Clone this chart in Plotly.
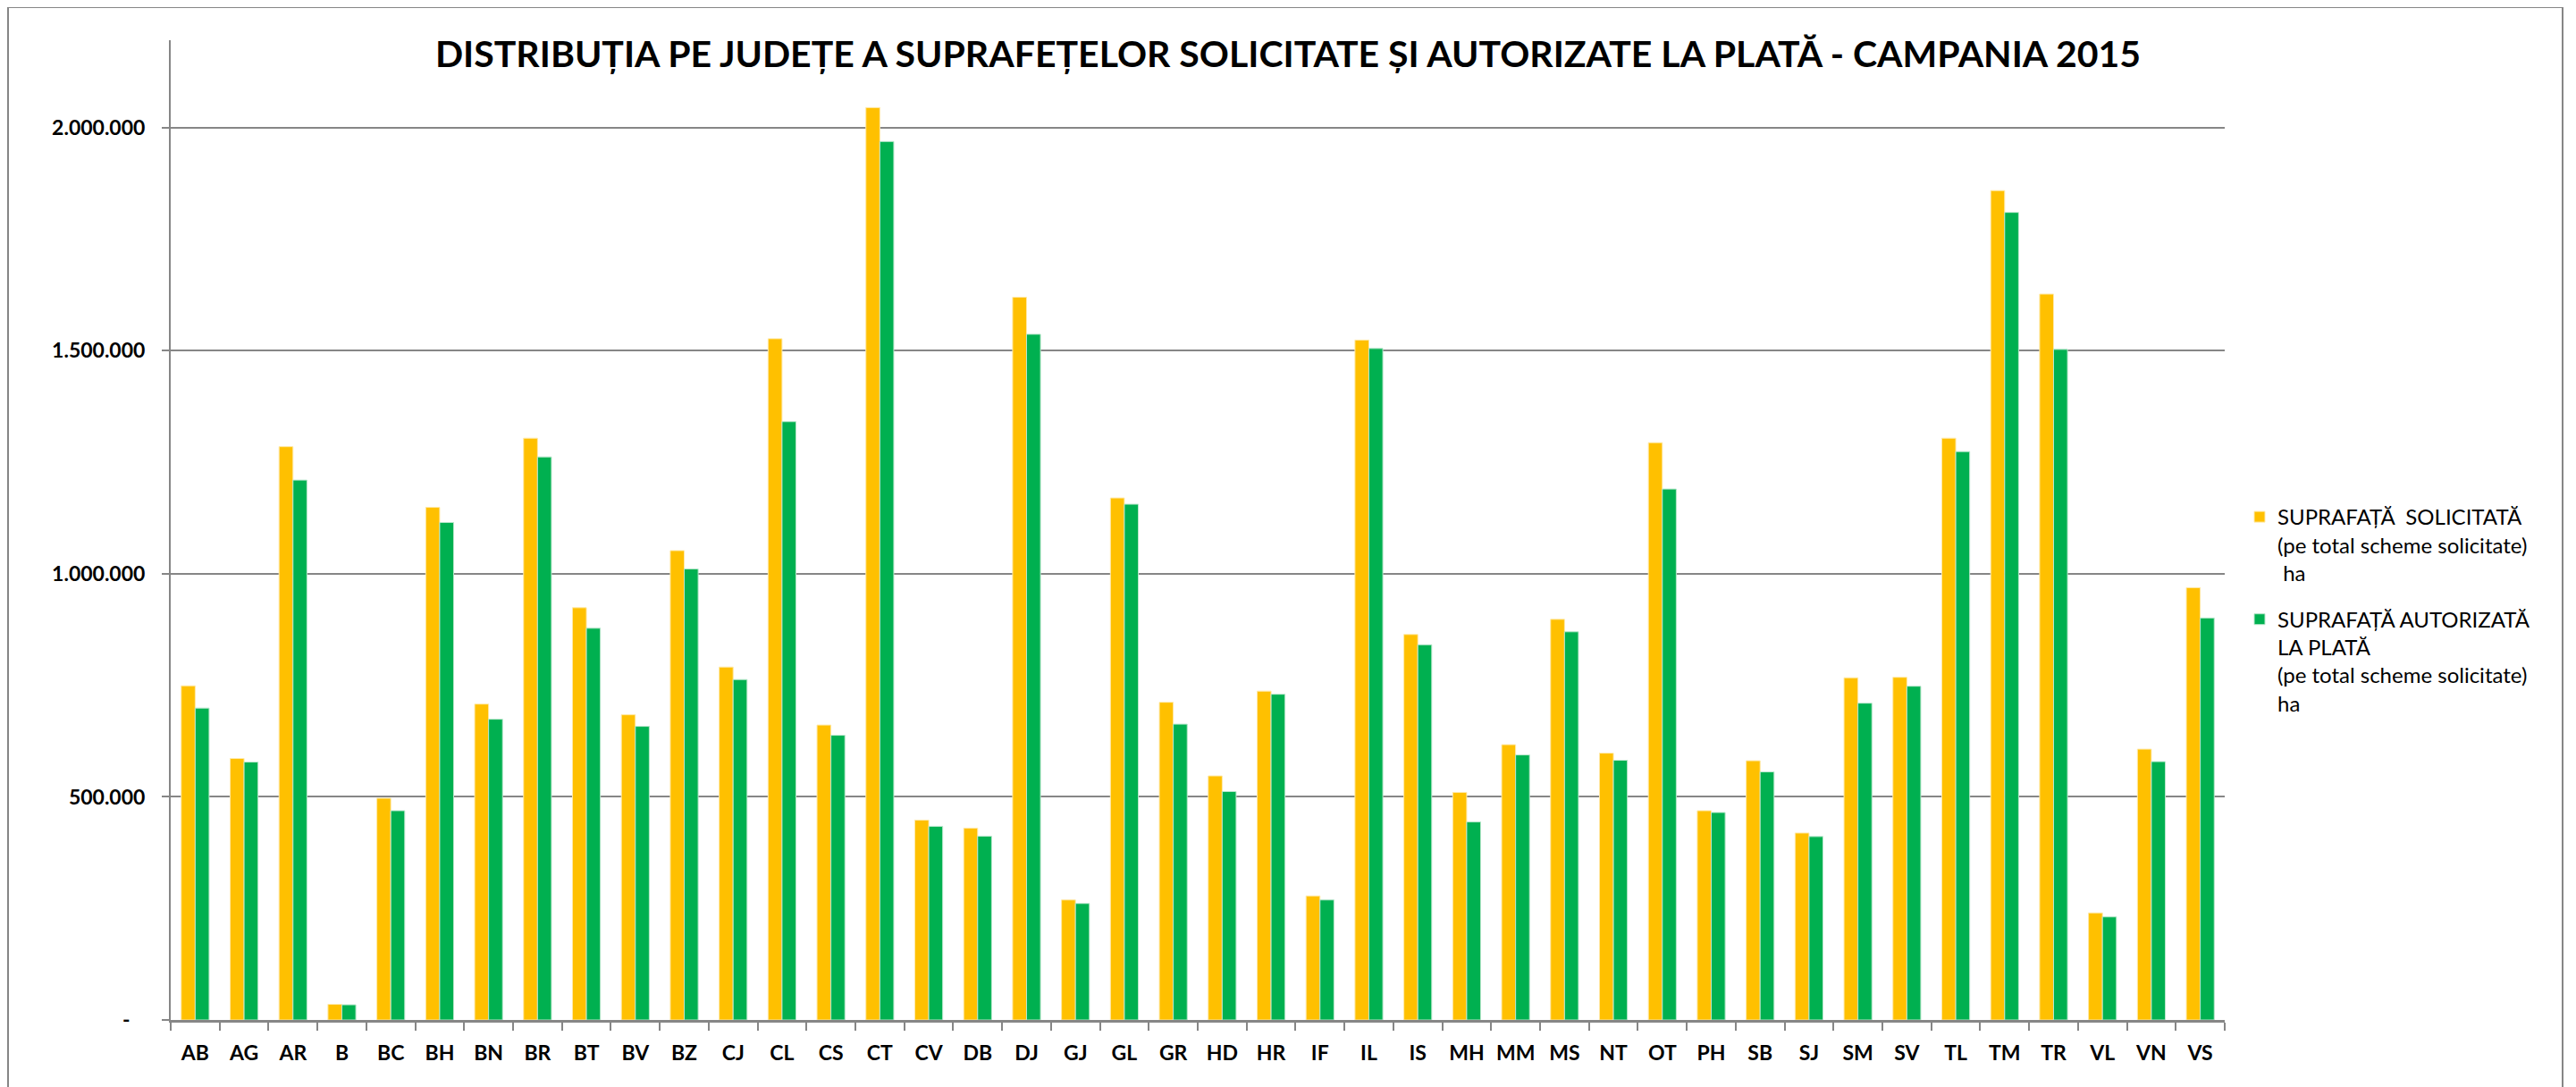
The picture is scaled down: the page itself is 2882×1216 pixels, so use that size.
import plotly.graph_objects as go

# County codes
judete = ['AB', 'AG', 'AR', 'B', 'BC', 'BH', 'BN', 'BR', 'BT', 'BV',
          'BZ', 'CJ', 'CL', 'CS', 'CT', 'CV', 'DB', 'DJ', 'GJ', 'GL',
          'GR', 'HD', 'HR', 'IF', 'IL', 'IS', 'MH', 'MM', 'MS', 'NT',
          'OT', 'PH', 'SB', 'SJ', 'SM', 'SV', 'TL', 'TM', 'TR', 'VL',
          'VN', 'VS']

# Requested area (ha)
suprafata_solicitata = [749000, 586000, 1285000, 35000, 497000, 1149000, 708000, 1304000, 924000, 684000,
                        1052000, 791000, 1527000, 661000, 2045000, 448000, 430000, 1620000, 269000, 1170000,
                        712000, 547000, 737000, 278000, 1524000, 864000, 510000, 617000, 898000, 598000,
                        1294000, 469000, 581000, 419000, 767000, 768000, 1304000, 1859000, 1627000, 240000,
                        607000, 969000]

# Area authorised for payment (ha)
suprafata_autorizata = [699000, 578000, 1210000, 34000, 469000, 1115000, 674000, 1262000, 878000, 658000,
                        1011000, 763000, 1341000, 638000, 1969000, 434000, 412000, 1537000, 261000, 1156000,
                        663000, 512000, 730000, 269000, 1505000, 841000, 444000, 594000, 870000, 582000,
                        1190000, 465000, 556000, 411000, 710000, 748000, 1274000, 1810000, 1503000, 231000,
                        579000, 901000]

y_tickvals = [0, 500000, 1000000, 1500000, 2000000]
y_ticktext = ['-\u00a0\u00a0\u00a0', '500.000', '1.000.000', '1.500.000', '2.000.000']

nume_solicitata = 'SUPRAFAȚĂ\u00a0\u00a0SOLICITATĂ<br>(pe total scheme solicitate)<br>\u00a0ha'
nume_autorizata = 'SUPRAFAȚĂ AUTORIZATĂ<br>LA PLATĂ<br>(pe total scheme solicitate)<br>ha'

# the page body adds an 8px margin, so the figure is drawn 8px in from the corner
OFF = 8
W, H = 2882 - OFF, 1216 - OFF
# plot area in page pixels
L, R, T, B = 191, 2489, 45, 1141
GRAY = '#868686'
FONT = 'Lato, Carlito, Open Sans, sans-serif'

fig = go.Figure()
fig.add_trace(go.Bar(x=judete, y=suprafata_solicitata, name=nume_solicitata,
                     marker=dict(color='#FFC000', line=dict(color='#FFE9A8', width=1)),
                     legendgroup='a'))
fig.add_trace(go.Bar(x=judete, y=suprafata_autorizata, name=nume_autorizata,
                     marker=dict(color='#00B050', line=dict(color='#B8E6CB', width=1)),
                     legendgroup='b'))

def px_x(p):
    return (p - L) / (R - L)

def px_y(p):
    return (B - p) / (B - T)

# outer chart border
fig.add_shape(type='rect', xref='paper', yref='paper',
              x0=px_x(9), x1=px_x(2867), y0=px_y(1240), y1=px_y(8),
              line=dict(color=GRAY, width=2), layer='below')

fig.update_layout(
    width=W, height=H,
    margin=dict(l=L - OFF, r=2882 - R, t=T - OFF, b=1216 - B),
    paper_bgcolor='white', plot_bgcolor='white',
    barmode='group', bargap=0.43, bargroupgap=0,
    font=dict(family=FONT, color='black'),
    title=dict(text='<b>DISTRIBUȚIA PE JUDEȚE A SUPRAFEȚELOR SOLICITATE ȘI AUTORIZATE LA PLATĂ - CAMPANIA 2015</b>',
               font=dict(size=41, family=FONT, color='black'),
               x=(1441 - OFF) / W, xanchor='center', xref='container',
               y=1 - (61 - OFF) / H, yanchor='middle', yref='container'),
    legend=dict(xref='container', yref='container', x=(2508 - OFF) / W, y=1 - (556 - OFF) / H,
                xanchor='left', yanchor='top', valign='top',
                font=dict(size=24, family=FONT, color='black'),
                tracegroupgap=18, bgcolor='rgba(0,0,0,0)'),
    showlegend=True,
)

fig.update_xaxes(
    type='category', showline=True, linecolor=GRAY, linewidth=3,
    ticks='outside', tickson='boundaries', ticklen=9, tickcolor=GRAY, tickwidth=2,
    tickfont=dict(size=23, family=FONT, color='black', weight='bold'),
    ticklabelstandoff=14, showgrid=False, zeroline=False,
)
fig.update_yaxes(
    range=[0, 2196000], tickvals=y_tickvals, ticktext=y_ticktext,
    showline=True, linecolor=GRAY, linewidth=2,
    ticks='outside', ticklen=8, tickcolor=GRAY, tickwidth=2,
    showgrid=True, gridcolor=GRAY, gridwidth=2, zeroline=False,
    tickfont=dict(size=23, family=FONT, color='black', weight='bold'),
    ticklabelstandoff=14,
)

fig.write_html('out.html')
